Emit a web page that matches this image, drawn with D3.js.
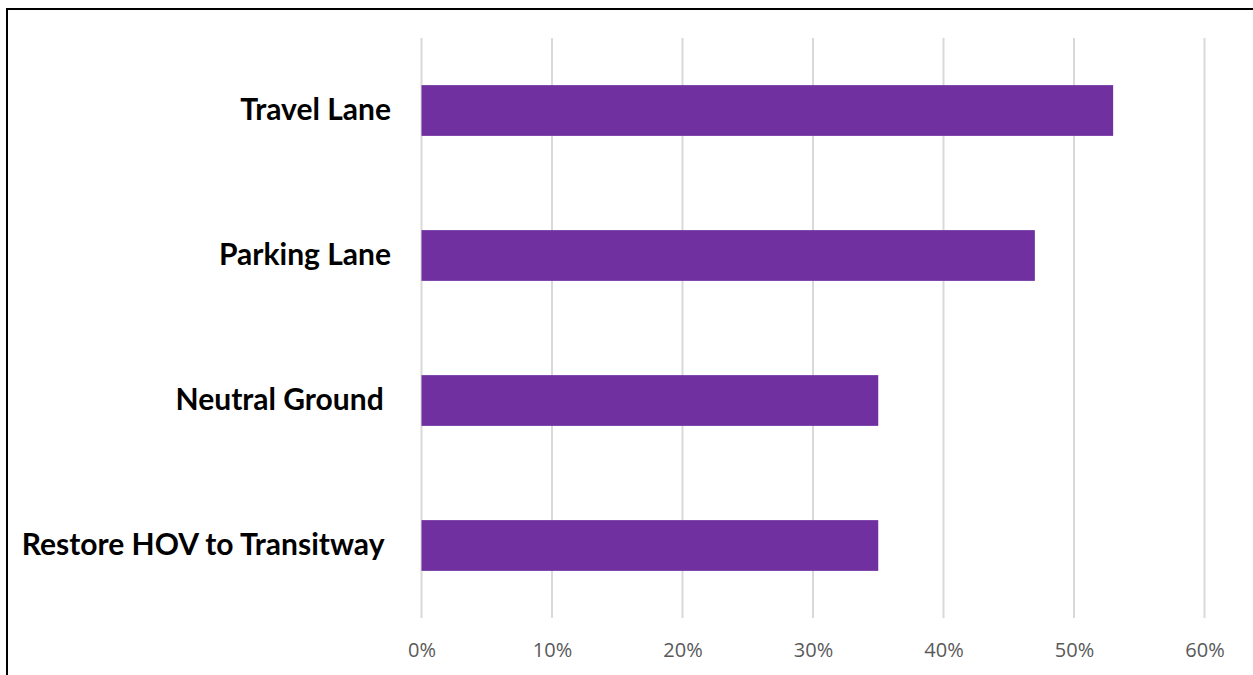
<!DOCTYPE html>
<html>
<head>
<meta charset="utf-8">
<script src="https://cdn.jsdelivr.net/npm/d3@7"></script>
<style>
  body { margin: 0; background: #fff; }
  svg { display: block; }
</style>
</head>
<body>
<svg width="1253" height="675"></svg>
<script>
// data
var categories = ["Travel Lane", "Parking Lane", "Neutral Ground ", "Restore HOV to Transitway "];
var values = [0.53, 0.47, 0.35, 0.35];
var ticks = [0, 0.1, 0.2, 0.3, 0.4, 0.5, 0.6];

var svg = d3.select("svg"),
    width = +svg.attr("width"),
    height = +svg.attr("height");

var plotLeft = 421.5, plotRight = 1204.5, plotTop = 38, plotBottom = 618;

var x = d3.scaleLinear()
    .domain([0, 0.6])
    .range([plotLeft, plotRight]);

var y = d3.scaleBand()
    .domain(categories)
    .range([plotTop, plotBottom])
    .paddingInner(0.65)
    .paddingOuter(0.325);

// frame (only the top and left edges show)
svg.append("line")
    .attr("x1", 7).attr("x2", 7)
    .attr("y1", 8).attr("y2", height)
    .attr("stroke", "#000").attr("stroke-width", 2);
svg.append("line")
    .attr("x1", 6).attr("x2", width)
    .attr("y1", 9).attr("y2", 9)
    .attr("stroke", "#000").attr("stroke-width", 2);

// gridlines
svg.append("g")
    .selectAll("line")
    .data(ticks)
    .enter()
    .append("line")
    .attr("x1", function(d) { return x(d); })
    .attr("x2", function(d) { return x(d); })
    .attr("y1", plotTop)
    .attr("y2", plotBottom)
    .attr("stroke", "#d9d9d9")
    .attr("stroke-width", 2);

// bars
svg.append("g")
    .selectAll("rect")
    .data(values)
    .enter()
    .append("rect")
    .attr("x", x(0))
    .attr("y", function(d, i) { return y(categories[i]); })
    .attr("width", function(d) { return x(d) - x(0); })
    .attr("height", y.bandwidth())
    .attr("fill", "#7030a0");

// x axis labels
var xAxis = d3.axisBottom(x)
    .tickValues(ticks)
    .tickFormat(d3.format(".0%"))
    .tickSize(0)
    .tickPadding(0);

var gx = svg.append("g")
    .attr("transform", "translate(0," + (plotBottom + 32) + ")")
    .call(xAxis);
gx.select(".domain").remove();
gx.selectAll("text")
    .attr("dy", "0.35em")
    .style("font-family", "'Open Sans', sans-serif")
    .style("font-size", "20px")
    .style("fill", "#595959");

// category labels
var yAxis = d3.axisLeft(y)
    .tickSize(0)
    .tickPadding(0);

var gy = svg.append("g")
    .attr("transform", "translate(391,0)")
    .call(yAxis);
gy.select(".domain").remove();
gy.selectAll("text")
    .attr("dy", "0.33em")
    .style("white-space", "pre")
    .style("font-family", "Lato, sans-serif")
    .style("font-weight", "bold")
    .style("font-size", "30px")
    .style("fill", "#000");
</script>
</body>
</html>
